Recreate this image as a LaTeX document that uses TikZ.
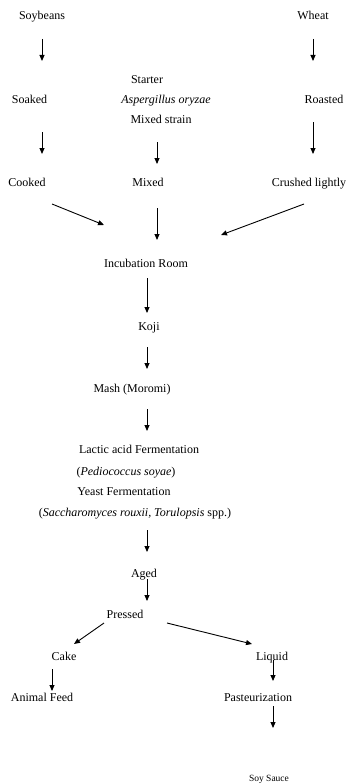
\documentclass[tikz,border=0pt]{standalone}
\usepackage{fontspec}
\setmainfont{Liberation Serif}
\usetikzlibrary{arrows.meta}
\begin{document}
\begin{tikzpicture}[x=1pt,y=-1pt,
  lbl/.style={inner sep=0pt,anchor=base,yshift=-4pt,font=\fontsize{12}{14}\selectfont},
  small/.style={inner sep=0pt,anchor=base,yshift=-3pt,font=\fontsize{9.5}{11}\selectfont},
  flow/.style={line width=0.9pt,-{Triangle[length=6pt,width=5pt]}}]
\useasboundingbox[fill=white] (0,0) rectangle (347,784);

% raw materials and preparation
\node[lbl] (soy) at (42,16) {Soybeans};
\node[lbl] (wheat) at (313,16) {Wheat};
\node[lbl] (starter) at (147,79) {Starter};
\node[lbl] (soak) at (29.5,99) {Soaked};
\node[lbl] (asp) at (166,99) {\itshape Aspergillus oryzae};
\node[lbl] (roast) at (324,99) {Roasted};
\node[lbl] (strain) at (161,119) {Mixed strain};
\node[lbl] (cook) at (27,182) {Cooked};
\node[lbl] (mixed) at (148,182) {Mixed};
\node[lbl] (crush) at (309,182) {Crushed lightly};

% main line
\node[lbl] (incub) at (146,263) {Incubation Room};
\node[lbl] (koji) at (149,326) {Koji};
\node[lbl] (mash) at (132,388) {Mash (Moromi)};
\node[lbl] (lactic) at (139,449) {Lactic acid Fermentation};
\node[lbl] (pedio) at (126,471) {(\textit{Pediococcus soyae})};
\node[lbl] (yeast) at (124,491) {Yeast Fermentation};
\node[lbl] (sacch) at (135,512) {(\textit{Saccharomyces rouxii, Torulopsis} spp.)};
\node[lbl] (aged) at (144,573) {Aged};
\node[lbl] (press) at (125,614) {Pressed};

% products
\node[lbl] (cake) at (64,656) {Cake};
\node[lbl] (liquid) at (272,656) {Liquid};
\node[lbl] (feed) at (42,697) {Animal Feed};
\node[lbl] (past) at (258,697) {Pasteurization};
\node[small] (sauce) at (269,778) {Soy Sauce};

% arrow end points
\coordinate (a1s) at (42,39);   \coordinate (a1e) at (42,61);
\coordinate (a2s) at (313,39);  \coordinate (a2e) at (313,61);
\coordinate (a3s) at (42,132);  \coordinate (a3e) at (42,154);
\coordinate (a4s) at (157,142); \coordinate (a4e) at (157,164);
\coordinate (a5s) at (313,122); \coordinate (a5e) at (313,154);
\coordinate (a6s) at (52,204);  \coordinate (a6e) at (104,225);
\coordinate (a7s) at (157,208); \coordinate (a7e) at (157,240);
\coordinate (a8s) at (304,204); \coordinate (a8e) at (221,235);
\coordinate (a9s) at (147,278); \coordinate (a9e) at (147,313);
\coordinate (b1s) at (147,347); \coordinate (b1e) at (147,369);
\coordinate (b2s) at (147,409); \coordinate (b2e) at (147,431);
\coordinate (b3s) at (147,530); \coordinate (b3e) at (147,552);
\coordinate (b4s) at (147,579); \coordinate (b4e) at (147,601);
\coordinate (b5s) at (104,623); \coordinate (b5e) at (74,644);
\coordinate (b6s) at (167,623); \coordinate (b6e) at (252,644);
\coordinate (b7s) at (52,669);  \coordinate (b7e) at (52,691);
\coordinate (b8s) at (273,660); \coordinate (b8e) at (273,681);
\coordinate (b9s) at (273,706); \coordinate (b9e) at (273,728);

\foreach \a in {a1,a2,a3,a4,a5,a6,a7,a8,a9,b1,b2,b3,b4,b5,b6,b7,b8,b9}
  \draw[flow] (\a s) -- (\a e);
\end{tikzpicture}
\end{document}
